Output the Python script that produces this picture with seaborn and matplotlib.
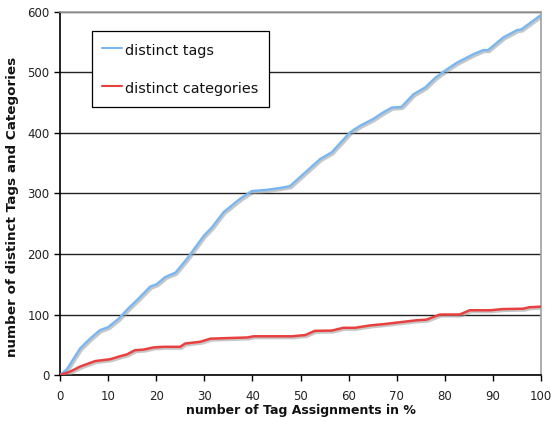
import matplotlib
matplotlib.use("Agg")
import matplotlib.pyplot as plt
import matplotlib.patheffects as pe
import seaborn as sns
import pandas as pd

tags_x = [0, 1.4, 4.2, 6.25, 8.3, 10, 12.2, 14.2, 16.3, 18.75, 20.1, 21.9, 24, 26.4, 29.9,
          31.6, 34, 37.4, 39.9, 43, 45.7, 47.8, 50.6, 54.1, 56.5, 60.3, 62.4, 65.1, 67.2,
          69, 71, 73.5, 75.9, 78, 80.4, 82.5, 85.9, 88, 89, 92.2, 95, 95.9, 100]
tags_y = [0, 9, 44, 60, 74, 79, 93, 110, 126, 146, 150, 162, 169, 192, 230,
          244, 269, 291, 304, 306, 309, 312, 332, 357, 368, 401, 412, 423, 434,
          442, 443, 464, 475, 491, 505, 516, 530, 537, 537, 558, 570, 571, 595]

cats_x = [0, 2.1, 4.2, 7.3, 10.4, 12.5, 13.9, 15.6, 17.4, 19.4, 21.5, 25, 26, 29.2, 31.25,
          34.7, 38.9, 40.3, 45.8, 48.2, 51, 53, 56.5, 58.9, 61.3, 64.5, 67.2, 70, 74.1,
          76.2, 79, 83.1, 85.2, 89.4, 92.1, 96.3, 97.6, 100]
cats_y = [0, 5.5, 14, 23, 26, 31, 34, 41, 42, 45.5, 46.6, 46.6, 52, 55, 60,
          61, 62, 64, 64, 64, 66, 73, 73.4, 78, 78, 82, 84, 86.6, 90.4,
          91.5, 100, 100, 107, 107, 109, 109.6, 112, 113]

series_names = ["distinct tags", "distinct categories"]
x_ticks = list(range(0, 101, 10))
y_ticks = list(range(0, 601, 100))

sns.set_theme(style="white")
plt.rcParams['font.family'] = ['DejaVu Sans']

fig = plt.figure(figsize=(5.51, 4.21), dpi=100)
ax = fig.add_axes([60/551, 1-375/421, 481/551, 363/421])

shadow = [pe.SimpleLineShadow(offset=(1.0, -1.3), shadow_color='#999999', alpha=0.55),
          pe.Normal()]

df_t = pd.DataFrame({"x": tags_x, "y": tags_y})
df_c = pd.DataFrame({"x": cats_x, "y": cats_y})
sns.lineplot(data=df_t, x="x", y="y", ax=ax, color="#7ab6f0", lw=1.8,
             label=series_names[0], path_effects=shadow, zorder=3)
sns.lineplot(data=df_c, x="x", y="y", ax=ax, color="#e8403f", lw=1.8,
             label=series_names[1], path_effects=shadow, zorder=3)

ax.set_xlim(0, 100)
ax.set_ylim(0, 600)
ax.set_xticks(x_ticks)
ax.set_yticks(y_ticks)
ax.yaxis.grid(True, color="#222222", lw=1)
ax.xaxis.grid(False)
ax.set_axisbelow(True)

for s in ["left", "bottom"]:
    ax.spines[s].set_color("#000000")
    ax.spines[s].set_linewidth(1.2)
for s in ["top", "right"]:
    ax.spines[s].set_color("#a0a0a0")
    ax.spines[s].set_linewidth(1.2)

ax.tick_params(axis="both", which="major", direction="out", length=4, width=1,
               color="#000000", labelsize=8.5, labelcolor="#222222",
               left=True, bottom=True)
ax.tick_params(axis="x", pad=7)

ax.set_xlabel("number of Tag Assignments in %", fontsize=9, fontweight="bold",
              color="#111111")
ax.xaxis.set_label_coords(0.5, -0.08)
ax.set_ylabel("number of distinct Tags and Categories", fontsize=9.7, fontweight="bold",
              color="#111111")
ax.yaxis.set_label_coords(-0.085, (375 - 207) / 363)

leg = ax.legend(loc="upper left", bbox_to_anchor=(0.0665, 0.948), fontsize=10.4,
                frameon=True, fancybox=False, framealpha=1, edgecolor="#000000",
                handlelength=1.37, handleheight=1.6, handletextpad=0.27,
                labelspacing=1.35, borderpad=0.68, borderaxespad=0)
leg.get_frame().set_linewidth(0.9)
for ln in leg.get_lines():
    ln.set_path_effects([])
    ln.set_linewidth(1.5)
for t in leg.get_texts():
    t.set_color("#111111")

fig.savefig("out.png", dpi=100)
